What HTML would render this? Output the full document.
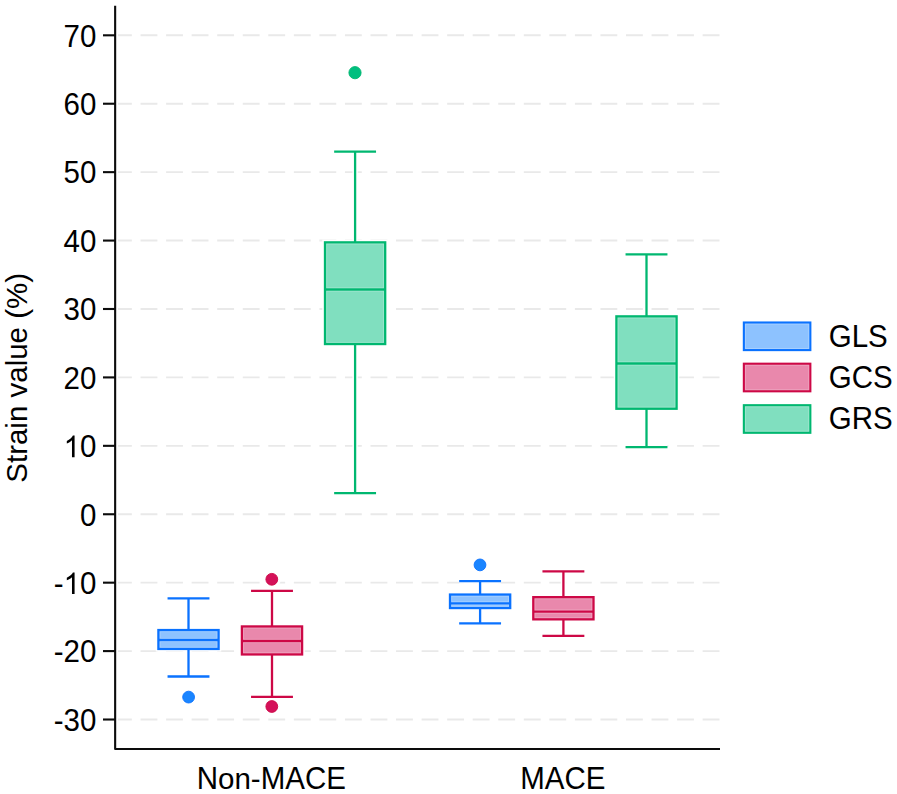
<!DOCTYPE html>
<html><head><meta charset="utf-8"><title>Strain box plot</title>
<style>html,body{margin:0;padding:0;background:#fff;overflow:hidden}svg{display:block}</style>
</head><body>
<svg width="897" height="794" viewBox="0 0 897 794">
<rect width="897" height="794" fill="#ffffff"/>
<g stroke="#e9e9e9" stroke-width="1.9" stroke-dasharray="16.85 8.7">
<line x1="115" x2="720" y1="719.51" y2="719.51"/>
<line x1="115" x2="720" y1="651.09" y2="651.09"/>
<line x1="115" x2="720" y1="582.67" y2="582.67"/>
<line x1="115" x2="720" y1="514.25" y2="514.25"/>
<line x1="115" x2="720" y1="445.83" y2="445.83"/>
<line x1="115" x2="720" y1="377.41" y2="377.41"/>
<line x1="115" x2="720" y1="308.99" y2="308.99"/>
<line x1="115" x2="720" y1="240.57" y2="240.57"/>
<line x1="115" x2="720" y1="172.15" y2="172.15"/>
<line x1="115" x2="720" y1="103.73" y2="103.73"/>
<line x1="115" x2="720" y1="35.31" y2="35.31"/>
</g>
<g stroke="#fff" stroke-width="5.3" fill="none">
<line x1="188.5" x2="188.5" y1="598.40" y2="630.05"/>
<line x1="188.5" x2="188.5" y1="648.95" y2="676.50"/>
<line x1="167.55" x2="209.45" y1="598.40" y2="598.40"/>
<line x1="167.55" x2="209.45" y1="676.50" y2="676.50"/>
<rect x="158.40" y="630.05" width="60.20" height="18.90" fill="#fff"/>
<circle cx="188.6" cy="697.1" r="6.35" fill="#fff"/>
<line x1="272.0" x2="272.0" y1="590.90" y2="626.45"/>
<line x1="272.0" x2="272.0" y1="654.45" y2="696.90"/>
<line x1="251.05" x2="292.95" y1="590.90" y2="590.90"/>
<line x1="251.05" x2="292.95" y1="696.90" y2="696.90"/>
<rect x="241.90" y="626.45" width="60.20" height="28.00" fill="#fff"/>
<circle cx="271.8" cy="579.3" r="6.35" fill="#fff"/>
<circle cx="271.8" cy="706.5" r="6.35" fill="#fff"/>
<line x1="355.1" x2="355.1" y1="151.65" y2="242.35"/>
<line x1="355.1" x2="355.1" y1="344.05" y2="493.20"/>
<line x1="334.15" x2="376.05" y1="151.65" y2="151.65"/>
<line x1="334.15" x2="376.05" y1="493.20" y2="493.20"/>
<rect x="325.00" y="242.35" width="60.20" height="101.70" fill="#fff"/>
<circle cx="355.0" cy="72.7" r="6.35" fill="#fff"/>
<line x1="480.1" x2="480.1" y1="581.05" y2="594.55"/>
<line x1="480.1" x2="480.1" y1="608.05" y2="623.45"/>
<line x1="459.15" x2="501.05" y1="581.05" y2="581.05"/>
<line x1="459.15" x2="501.05" y1="623.45" y2="623.45"/>
<rect x="450.00" y="594.55" width="60.20" height="13.50" fill="#fff"/>
<circle cx="480.0" cy="564.9" r="6.35" fill="#fff"/>
<line x1="563.4" x2="563.4" y1="571.40" y2="597.15"/>
<line x1="563.4" x2="563.4" y1="619.35" y2="635.80"/>
<line x1="542.45" x2="584.35" y1="571.40" y2="571.40"/>
<line x1="542.45" x2="584.35" y1="635.80" y2="635.80"/>
<rect x="533.30" y="597.15" width="60.20" height="22.20" fill="#fff"/>
<line x1="646.5" x2="646.5" y1="254.40" y2="316.35"/>
<line x1="646.5" x2="646.5" y1="408.75" y2="447.20"/>
<line x1="625.55" x2="667.45" y1="254.40" y2="254.40"/>
<line x1="625.55" x2="667.45" y1="447.20" y2="447.20"/>
<rect x="616.40" y="316.35" width="60.20" height="92.40" fill="#fff"/>
</g>
<rect x="115" y="4" width="3.0" height="744" fill="#fff"/>
<g stroke="#0a72ff" stroke-width="2.3" fill="none">
<line x1="188.5" x2="188.5" y1="598.40" y2="630.05"/>
<line x1="188.5" x2="188.5" y1="648.95" y2="676.50"/>
<line x1="167.55" x2="209.45" y1="598.40" y2="598.40"/>
<line x1="167.55" x2="209.45" y1="676.50" y2="676.50"/>
<rect x="158.40" y="630.05" width="60.20" height="18.90" fill="#8dc2ff"/>
<line x1="158.40" x2="218.60" y1="640.00" y2="640.00"/>
</g>
<g stroke="#fff" stroke-opacity="0.22" stroke-width="1" fill="none">
<rect x="160.05" y="631.70" width="56.90" height="6.65"/>
<rect x="160.05" y="641.65" width="56.90" height="5.65"/>
</g>
<circle cx="188.6" cy="697.1" r="5.9" fill="#1a85ff" stroke="#0a72ff" stroke-width="0.9"/>
<g stroke="#cd0846" stroke-width="2.3" fill="none">
<line x1="272.0" x2="272.0" y1="590.90" y2="626.45"/>
<line x1="272.0" x2="272.0" y1="654.45" y2="696.90"/>
<line x1="251.05" x2="292.95" y1="590.90" y2="590.90"/>
<line x1="251.05" x2="292.95" y1="696.90" y2="696.90"/>
<rect x="241.90" y="626.45" width="60.20" height="28.00" fill="#e988ac"/>
<line x1="241.90" x2="302.10" y1="641.00" y2="641.00"/>
</g>
<g stroke="#fff" stroke-opacity="0.22" stroke-width="1" fill="none">
<rect x="243.55" y="628.10" width="56.90" height="11.25"/>
<rect x="243.55" y="642.65" width="56.90" height="10.15"/>
</g>
<circle cx="271.8" cy="579.3" r="5.9" fill="#d41159" stroke="#cd0846" stroke-width="0.9"/>
<circle cx="271.8" cy="706.5" r="5.9" fill="#d41159" stroke="#cd0846" stroke-width="0.9"/>
<g stroke="#00b770" stroke-width="2.3" fill="none">
<line x1="355.1" x2="355.1" y1="151.65" y2="242.35"/>
<line x1="355.1" x2="355.1" y1="344.05" y2="493.20"/>
<line x1="334.15" x2="376.05" y1="151.65" y2="151.65"/>
<line x1="334.15" x2="376.05" y1="493.20" y2="493.20"/>
<rect x="325.00" y="242.35" width="60.20" height="101.70" fill="#80dfbf"/>
<line x1="325.00" x2="385.20" y1="289.50" y2="289.50"/>
</g>
<g stroke="#fff" stroke-opacity="0.22" stroke-width="1" fill="none">
<rect x="326.65" y="244.00" width="56.90" height="43.85"/>
<rect x="326.65" y="291.15" width="56.90" height="51.25"/>
</g>
<circle cx="355.0" cy="72.7" r="6.1" fill="#00bf7f" stroke="#00b770" stroke-width="0.9"/>
<g stroke="#0a72ff" stroke-width="2.3" fill="none">
<line x1="480.1" x2="480.1" y1="581.05" y2="594.55"/>
<line x1="480.1" x2="480.1" y1="608.05" y2="623.45"/>
<line x1="459.15" x2="501.05" y1="581.05" y2="581.05"/>
<line x1="459.15" x2="501.05" y1="623.45" y2="623.45"/>
<rect x="450.00" y="594.55" width="60.20" height="13.50" fill="#8dc2ff"/>
<line x1="450.00" x2="510.20" y1="603.40" y2="603.40"/>
</g>
<g stroke="#fff" stroke-opacity="0.22" stroke-width="1" fill="none">
<rect x="451.65" y="596.20" width="56.90" height="5.55"/>
<rect x="451.65" y="605.05" width="56.90" height="1.35"/>
</g>
<circle cx="480.0" cy="564.9" r="5.9" fill="#1a85ff" stroke="#0a72ff" stroke-width="0.9"/>
<g stroke="#cd0846" stroke-width="2.3" fill="none">
<line x1="563.4" x2="563.4" y1="571.40" y2="597.15"/>
<line x1="563.4" x2="563.4" y1="619.35" y2="635.80"/>
<line x1="542.45" x2="584.35" y1="571.40" y2="571.40"/>
<line x1="542.45" x2="584.35" y1="635.80" y2="635.80"/>
<rect x="533.30" y="597.15" width="60.20" height="22.20" fill="#e988ac"/>
<line x1="533.30" x2="593.50" y1="611.60" y2="611.60"/>
</g>
<g stroke="#fff" stroke-opacity="0.22" stroke-width="1" fill="none">
<rect x="534.95" y="598.80" width="56.90" height="11.15"/>
<rect x="534.95" y="613.25" width="56.90" height="4.45"/>
</g>
<g stroke="#00b770" stroke-width="2.3" fill="none">
<line x1="646.5" x2="646.5" y1="254.40" y2="316.35"/>
<line x1="646.5" x2="646.5" y1="408.75" y2="447.20"/>
<line x1="625.55" x2="667.45" y1="254.40" y2="254.40"/>
<line x1="625.55" x2="667.45" y1="447.20" y2="447.20"/>
<rect x="616.40" y="316.35" width="60.20" height="92.40" fill="#80dfbf"/>
<line x1="616.40" x2="676.60" y1="363.50" y2="363.50"/>
</g>
<g stroke="#fff" stroke-opacity="0.22" stroke-width="1" fill="none">
<rect x="618.05" y="318.00" width="56.90" height="43.85"/>
<rect x="618.05" y="365.15" width="56.90" height="41.95"/>
</g>
<g stroke="#0c0c0c" stroke-width="2.1" fill="none" stroke-linejoin="round">
<polyline points="115.15,5.8 115.15,749.0 720,749.0"/>
<line x1="103.0" x2="115.15" y1="719.51" y2="719.51"/>
<line x1="103.0" x2="115.15" y1="651.09" y2="651.09"/>
<line x1="103.0" x2="115.15" y1="582.67" y2="582.67"/>
<line x1="103.0" x2="115.15" y1="514.25" y2="514.25"/>
<line x1="103.0" x2="115.15" y1="445.83" y2="445.83"/>
<line x1="103.0" x2="115.15" y1="377.41" y2="377.41"/>
<line x1="103.0" x2="115.15" y1="308.99" y2="308.99"/>
<line x1="103.0" x2="115.15" y1="240.57" y2="240.57"/>
<line x1="103.0" x2="115.15" y1="172.15" y2="172.15"/>
<line x1="103.0" x2="115.15" y1="103.73" y2="103.73"/>
<line x1="103.0" x2="115.15" y1="35.31" y2="35.31"/>
</g>
<g font-family="Liberation Sans, sans-serif" font-size="29.5px" fill="#000">
<text transform="translate(96.4 730.81) scale(1 1.065)" text-anchor="end">-30</text>
<text transform="translate(96.4 662.39) scale(1 1.065)" text-anchor="end">-20</text>
<text transform="translate(96.4 593.97) scale(1 1.065)" text-anchor="end">0</text>
<path transform="translate(63.59 593.97) scale(0.014404 -0.014620)" d="M763 0H583V1147Q518 1085 412.5 1023Q307 961 223 930V1104Q374 1175 487 1276Q600 1377 647 1472H763Z"/>
<text transform="translate(63.59 593.97) scale(1 1.065)" text-anchor="end">-</text>
<text transform="translate(96.4 525.55) scale(1 1.065)" text-anchor="end">0</text>
<text transform="translate(96.4 457.13) scale(1 1.065)" text-anchor="end">0</text>
<path transform="translate(63.59 457.13) scale(0.014404 -0.014620)" d="M763 0H583V1147Q518 1085 412.5 1023Q307 961 223 930V1104Q374 1175 487 1276Q600 1377 647 1472H763Z"/>
<text transform="translate(96.4 388.71) scale(1 1.065)" text-anchor="end">20</text>
<text transform="translate(96.4 320.29) scale(1 1.065)" text-anchor="end">30</text>
<text transform="translate(96.4 251.87) scale(1 1.065)" text-anchor="end">40</text>
<text transform="translate(96.4 183.45) scale(1 1.065)" text-anchor="end">50</text>
<text transform="translate(96.4 115.03) scale(1 1.065)" text-anchor="end">60</text>
<text transform="translate(96.4 46.61) scale(1 1.065)" text-anchor="end">70</text>
<text transform="translate(196.72 788.9) scale(1 1.06)">N</text>
<text transform="translate(218.03 788.9) scale(1 1.03)">on-</text>
<text transform="translate(260.67 788.9) scale(1 1.06)">MACE</text>
<text transform="translate(562.8 788.9) scale(1 1.06)" text-anchor="middle">MACE</text>
<g transform="translate(27.25 482.73) rotate(-90)">
<text transform="scale(1 1.02)">S</text>
<text transform="translate(19.69 0) scale(1 0.97)">train value (%)</text>
</g>
<rect x="743.85" y="322.50" width="66.50" height="27.60" fill="#8dc2ff" stroke="#0a72ff" stroke-width="2.1"/>
<rect x="745.45" y="324.10" width="63.30" height="24.40" fill="none" stroke="#fff" stroke-opacity="0.22" stroke-width="1"/>
<text transform="translate(828.7 346.70) scale(1 1.065)">GLS</text>
<rect x="743.85" y="363.70" width="66.50" height="27.60" fill="#e988ac" stroke="#cd0846" stroke-width="2.1"/>
<rect x="745.45" y="365.30" width="63.30" height="24.40" fill="none" stroke="#fff" stroke-opacity="0.22" stroke-width="1"/>
<text transform="translate(828.7 387.90) scale(1 1.065)">GCS</text>
<rect x="743.85" y="405.20" width="66.50" height="27.60" fill="#80dfbf" stroke="#00b770" stroke-width="2.1"/>
<rect x="745.45" y="406.80" width="63.30" height="24.40" fill="none" stroke="#fff" stroke-opacity="0.22" stroke-width="1"/>
<text transform="translate(828.7 429.40) scale(1 1.065)">GRS</text>
</g>
</svg>
</body></html>
